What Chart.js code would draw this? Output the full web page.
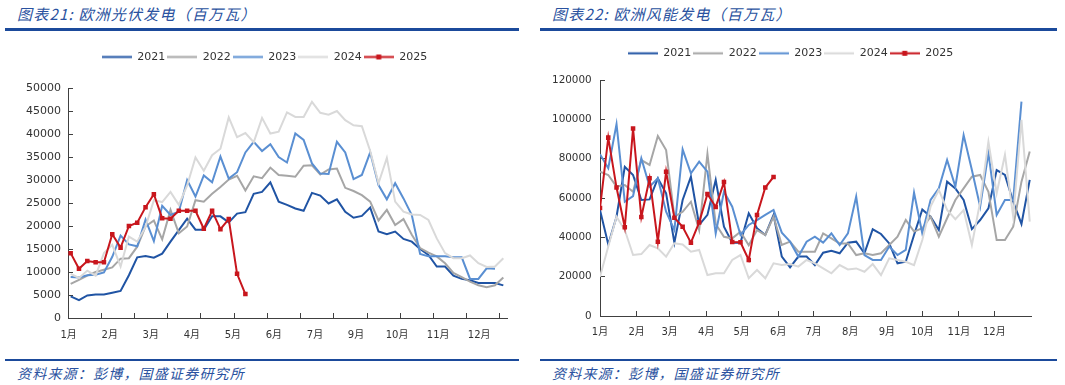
<!DOCTYPE html>
<html>
<head>
<meta charset="utf-8">
<script src="https://cdn.jsdelivr.net/npm/chart.js@4.4.1/dist/chart.umd.min.js"></script>
<style>
  html,body{margin:0;padding:0;background:#fff;}
  body{width:1065px;height:385px;position:relative;overflow:hidden;font-family:'Noto Sans CJK SC','DejaVu Sans',sans-serif;}
  .title{position:absolute;top:6px;font-size:15px;line-height:16px;font-style:italic;color:#2a52a0;letter-spacing:1.2px;white-space:nowrap;}
  .rule{position:absolute;background:#1b4a9b;}
  .src{position:absolute;top:365px;font-size:14px;line-height:16px;font-style:italic;color:#2a52a0;letter-spacing:1.2px;white-space:nowrap;}
  canvas{position:absolute;top:40px;}
</style>
</head>
<body>
<div class="title" style="left:17px;">图表21: 欧洲光伏发电（百万瓦）</div>
<div class="title" style="left:552px;">图表22: 欧洲风能发电（百万瓦）</div>
<div class="rule" style="left:5px;width:514px;top:28px;height:3px;"></div>
<div class="rule" style="left:540px;width:517px;top:28px;height:3px;"></div>
<div class="rule" style="left:5px;width:514px;top:359px;height:2px;"></div>
<div class="rule" style="left:540px;width:517px;top:359px;height:2px;"></div>
<div class="src" style="left:17px;">资料来源：彭博，国盛证券研究所</div>
<div class="src" style="left:552px;">资料来源：彭博，国盛证券研究所</div>
<canvas id="solar" width="497" height="300" style="left:19px;"></canvas>
<canvas id="wind" width="489" height="300" style="left:546px;"></canvas>
<script>
// ---------------- data ----------------
const years = ['2021', '2022', '2023', '2024', '2025'];

// Solar (weekly, MW)
const solar2021 = [4700,3900,4900,5100,5100,5500,5900,9300,13200,13500,13100,14000,16600,19100,21600,19200,19200,22100,22100,20800,22700,23000,27000,27400,29500,25300,24600,23800,23300,27200,26600,24900,25800,23100,21800,22200,24000,18800,18200,18800,17200,16600,15000,13700,11200,11200,9200,8500,8200,7600,7600,7600,7100];
const solar2022 = [7400,8300,9200,10000,10500,11000,12900,13000,15500,19900,21200,17100,23500,18400,19900,25600,25300,27000,28500,30100,30900,27700,30800,30400,32700,31100,30900,30700,33100,33200,31200,32300,32500,28300,27600,26700,25300,21200,23500,20200,21500,18100,15200,14200,13400,11900,9800,8900,7900,7100,6700,7100,8800];
const solar2023 = [8900,8800,9300,9400,9900,13300,17900,16000,15600,21400,16700,24400,22400,23100,30000,26400,31000,29500,35100,30300,31700,36000,38300,36300,37800,35000,33800,40100,38700,33600,31400,31300,38300,36000,30200,31100,36000,28900,25800,29300,26000,22400,13900,13400,13400,13400,13200,13200,8500,8500,10800,10700];
const solar2024 = [9600,8700,10300,9200,14100,15900,11200,17700,16600,19800,25600,25200,27400,24600,28800,34900,32000,35400,36800,43600,39300,40200,38200,43500,40100,40500,44700,43700,43700,47000,44600,44200,45000,43000,41900,41700,36300,29300,34800,25300,23100,22500,22400,21300,17300,14100,13000,13000,13600,11900,11100,11200,13000];
const solar2025 = [14100,10700,12400,12100,12100,18200,15300,20000,20700,24100,26900,21700,21600,23300,23300,23300,19400,23300,19300,21500,9600,5200];

// Wind (weekly, MW)
const wind2021 = [53900,36400,50500,75900,71700,59000,59300,70000,62400,37300,59000,70800,46300,51400,69200,45400,37300,37300,52200,44600,41200,51400,30200,24700,30200,30200,25900,32200,33200,31900,37300,37800,31900,44100,41700,36900,26800,27600,41200,54200,50500,43700,68300,64900,59000,44200,48800,54700,74200,71700,58100,46800,69200];
const wind2022 = [73400,71700,65800,66600,63200,79300,76800,91500,84400,50500,53000,58100,43700,82400,46800,40300,39500,42900,36000,43700,41200,50500,36100,37800,32700,32700,32700,42000,39500,36900,36900,31000,31900,31000,31900,36100,40300,48800,42900,44600,50500,40300,49700,59000,64900,70800,71700,63200,38600,38600,45400,68300,83600];
const wind2023 = [82200,75100,97600,58100,61000,80200,65800,70000,53000,43700,84700,72500,78500,73400,42000,63200,55600,41200,46300,48800,51400,53900,42400,37800,30200,37800,40300,37300,42000,36100,42000,60700,31000,28500,28500,35300,31000,33600,62700,42000,59000,64900,79300,65800,92000,74200,55600,83000,51400,59000,59000,109000];
const wind2024 = [20000,35300,50500,43700,31000,31500,36100,34400,30200,37000,36400,32700,33600,20800,21700,21700,28500,31000,19200,23400,19200,26800,25900,26400,25100,28500,26800,24200,21700,25900,23700,24200,22500,26400,20800,29300,28500,27600,25900,38600,55600,64100,53900,49200,53900,36100,58000,88600,62400,81900,50500,99700,48000];
const wind2025 = [54900,90700,65300,45100,95300,50300,70000,37800,73400,50000,45400,37300,47600,62000,55400,68100,37600,37500,28500,51400,65300,70700];

// tick labels
const solarMonthLabels = ['1月','2月','3月','4月','5月','6月','7月','9月','10月','11月','12月'];
const windMonthLabels = ['1月','2月','3月','4月','5月','6月','7月','8月','9月','10月','11月','12月'];
const monthStartDays = [0,31,59,90,120,151,181,212,243,273,304,334];
const solarYTicks = {min: 0, max: 50000, step: 5000};
const windYTicks = {min: 0, max: 120000, step: 20000};

// ---------------- styling ----------------
const colors = ['#2054a4', '#a6a6a6', '#5a8fd2', '#d9d9d9', '#c8161d'];
Chart.defaults.font.family = "'DejaVu Sans','Noto Sans CJK SC',sans-serif";
Chart.defaults.color = '#333';
const AXIS = '#404040';

function legendImage(i) {
  const c = document.createElement('canvas');
  c.width = 30; c.height = 7;
  const g = c.getContext('2d');
  g.fillStyle = colors[i];
  g.fillRect(0, 2.5, 30, 2);
  if (i === 4) g.fillRect(12.5, 1, 5, 5);
  return c;
}
const legendImgs = years.map((_, i) => legendImage(i));

function toPts(arr) { return arr.map((v, i) => ({x: i, y: v})); }

function buildDatasets(series, markerR) {
  return series.map((arr, i) => ({
    label: years[i],
    data: toPts(arr),
    borderColor: colors[i],
    backgroundColor: colors[i],
    borderWidth: 2,
    tension: 0,
    order: 5 - i,
    pointRadius: i === 4 ? markerR : 0,
    pointHoverRadius: i === 4 ? markerR : 0,
    pointStyle: 'rect',
    pointBackgroundColor: colors[i],
    pointBorderWidth: 0
  }));
}

function legendGap(gap) {
  return {
    id: 'legendGap',
    beforeInit(chart) {
      const fit = chart.legend.fit;
      chart.legend.fit = function () { fit.call(this); this.height += gap; };
    }
  };
}

function makeChart(id, o) {
  new Chart(document.getElementById(id), {
    type: 'line',
    data: {datasets: buildDatasets(o.series, o.markerR)},
    options: {
      responsive: false,
      animation: false,
      devicePixelRatio: 1,
      layout: {padding: {top: o.padTop, left: 0, right: o.padRight, bottom: 0}},
      plugins: {
        tooltip: {enabled: false},
        legend: {
          display: true,
          position: 'top',
          align: 'center',
          labels: {
            usePointStyle: true,
            pointStyleWidth: 30,
            padding: 2,
            color: '#333',
            font: {size: 11},
            sort: (a, b) => a.datasetIndex - b.datasetIndex,
            generateLabels(chart) {
              const items = Chart.defaults.plugins.legend.labels.generateLabels(chart);
              items.forEach(it => { it.pointStyle = legendImgs[it.datasetIndex]; });
              return items;
            }
          }
        }
      },
      scales: {
        x: {
          type: 'linear',
          min: o.xMin,
          max: o.xMax,
          afterBuildTicks: s => { s.ticks = o.xTicks.map(t => ({value: t.v, lbl: t.l, mark: t.m})); },
          afterFit: s => { s.height = o.xAxisH; },
          ticks: {
            autoSkip: false, maxRotation: 0, minRotation: 0,
            padding: o.xPad, color: '#333', font: {size: 10},
            callback: (v, i, t) => t[i].lbl
          },
          grid: {
            drawOnChartArea: false, drawTicks: true, tickLength: -5,
            color: 'rgba(0,0,0,0)',
            tickColor: c => (c.tick && c.tick.mark) ? AXIS : 'rgba(0,0,0,0)'
          },
          border: {display: true, color: AXIS, width: 1}
        },
        y: {
          min: o.y.min, max: o.y.max,
          afterFit: s => { s.width = o.yAxisW; },
          ticks: {stepSize: o.y.step, padding: o.yPad, color: '#333', font: {size: o.yFont}, callback: v => String(v)},
          grid: {drawOnChartArea: false, drawTicks: true, tickLength: -5, tickColor: AXIS},
          border: {display: true, color: AXIS, width: 1}
        }
      }
    },
    plugins: [legendGap(o.gap)]
  });
}

// Solar x ticks: marks every 4 weeks, month labels every ~5 weeks
const solarXMin = -0.32, solarXMax = 52.47;
const solarTicks = [];
for (let k = 0; k <= 13; k++) solarTicks.push({v: solarXMin + 3.993 * k, l: '', m: true});
solarMonthLabels.forEach((lab, k) => solarTicks.push({v: -0.24 + 4.934 * k, l: lab, m: false}));
solarTicks.sort((a, b) => a.v - b.v);

// Wind x ticks: month starts (in weeks)
const windTicks = monthStartDays.map((d, k) => ({v: d / 7, l: windMonthLabels[k], m: true}));

makeChart('solar', {
  series: [solar2021, solar2022, solar2023, solar2024, solar2025],
  markerR: 3.2, padTop: 9.5, padRight: 6, gap: 15.5,
  xMin: solarXMin, xMax: solarXMax, xTicks: solarTicks, xAxisH: 22, xPad: 16,
  y: solarYTicks, yAxisW: 49, yPad: 12, yFont: 11
});

makeChart('wind', {
  series: [wind2021, wind2022, wind2023, wind2024, wind2025],
  markerR: 3.2, padTop: 5.8, padRight: 0, gap: 11.2,
  xMin: 0, xMax: 52.25, xTicks: windTicks, xAxisH: 24, xPad: 15,
  y: windYTicks, yAxisW: 54, yPad: 13.3, yFont: 10.4
});
</script>
</body>
</html>
